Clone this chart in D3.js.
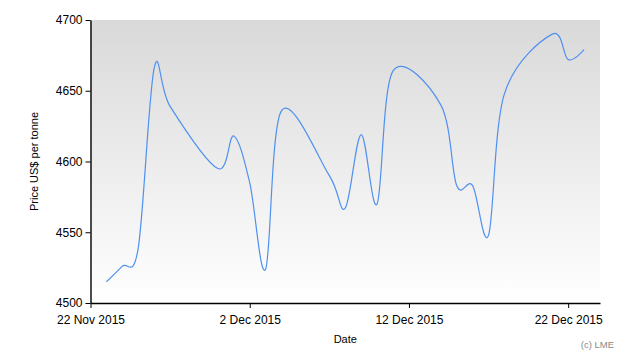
<!DOCTYPE html>
<html>
<head>
<meta charset="utf-8">
<script src="https://cdn.jsdelivr.net/npm/d3@7"></script>
<style>
  html, body { margin: 0; padding: 0; background: #fff; }
  svg { display: block; font-family: "Liberation Sans", Arial, sans-serif; }
</style>
</head>
<body>
<svg id="chart" width="630" height="360"></svg>
<script>
const dates = ["2015-11-23","2015-11-24","2015-11-25","2015-11-26","2015-11-27",
  "2015-11-30","2015-12-01","2015-12-02","2015-12-03","2015-12-04",
  "2015-12-07","2015-12-08","2015-12-09","2015-12-10","2015-12-11",
  "2015-12-14","2015-12-15","2015-12-16","2015-12-17","2015-12-18",
  "2015-12-21","2015-12-22","2015-12-23"];
const prices = [4515, 4526, 4539, 4666, 4639,
  4595, 4618, 4585, 4524, 4636,
  4590, 4567, 4619, 4570, 4664,
  4640, 4583, 4583, 4548, 4648,
  4690, 4672, 4679];
const xTickDates = ["2015-11-22","2015-12-02","2015-12-12","2015-12-22"];
const yTicks = [4500, 4550, 4600, 4650, 4700];
const xDomain = ["2015-11-22","2015-12-24"];
const yDomain = [4500, 4700];

const parse = d3.utcParse("%Y-%m-%d");
const data = dates.map((d, i) => ({date: parse(d), value: prices[i]}));

const pLeft = 90.5, pRight = 600, pTop = 20, pBottom = 303;
const svg = d3.select("#chart");

const x = d3.scaleUtc().domain(xDomain.map(parse)).range([pLeft, pRight]);
const y = d3.scaleLinear().domain(yDomain).range([pBottom, pTop]);

const defs = svg.append("defs");
const grad = defs.append("linearGradient").attr("id", "bg")
  .attr("x1", 0).attr("y1", 0).attr("x2", 0).attr("y2", 1);
grad.append("stop").attr("offset", "0%").attr("stop-color", "#d9d9d9");
grad.append("stop").attr("offset", "100%").attr("stop-color", "#ffffff");

svg.append("rect")
  .attr("x", pLeft).attr("y", pTop)
  .attr("width", pRight - pLeft).attr("height", pBottom - pTop)
  .attr("fill", "url(#bg)");

const line = d3.line()
  .x(d => x(d.date))
  .y(d => y(d.value))
  .curve(d3.curveCatmullRom.alpha(0));

svg.append("path")
  .datum(data)
  .attr("d", line)
  .attr("fill", "none")
  .attr("stroke", "#4f90ee")
  .attr("stroke-width", 1.2);

const xAxis = svg.append("g")
  .attr("transform", `translate(0,${pBottom})`)
  .call(d3.axisBottom(x)
    .tickValues(xTickDates.map(parse))
    .tickFormat(d3.utcFormat("%-d %b %Y"))
    .tickSize(5)
    .tickSizeOuter(0));
xAxis.selectAll("text").attr("font-size", 12).attr("fill", "#000").attr("dy", "1.05em");
xAxis.select(".domain").attr("stroke", "#000").attr("stroke-width", 1.4);
xAxis.selectAll(".tick line").attr("stroke", "#000");

const yAxis = svg.append("g")
  .attr("transform", `translate(${pLeft},0)`)
  .call(d3.axisLeft(y)
    .tickValues(yTicks)
    .tickFormat(d3.format("d"))
    .tickSize(5)
    .tickSizeOuter(0));
yAxis.selectAll("text").attr("font-size", 12).attr("fill", "#000");
yAxis.select(".domain").attr("stroke", "#000").attr("stroke-width", 1.4);
yAxis.selectAll(".tick line").attr("stroke", "#000");

svg.append("text")
  .attr("transform", `translate(38,${(pTop + pBottom) / 2}) rotate(-90)`)
  .attr("text-anchor", "middle")
  .attr("font-size", 11)
  .attr("fill", "#000")
  .text("Price US$ per tonne");

svg.append("text")
  .attr("x", (pLeft + pRight) / 2)
  .attr("y", 343)
  .attr("text-anchor", "middle")
  .attr("font-size", 11)
  .attr("fill", "#000")
  .text("Date");

svg.append("text")
  .attr("x", 614)
  .attr("y", 348)
  .attr("text-anchor", "end")
  .attr("font-size", 9.5)
  .attr("fill", "#8a8a8a")
  .text("(c) LME");
</script>
</body>
</html>
